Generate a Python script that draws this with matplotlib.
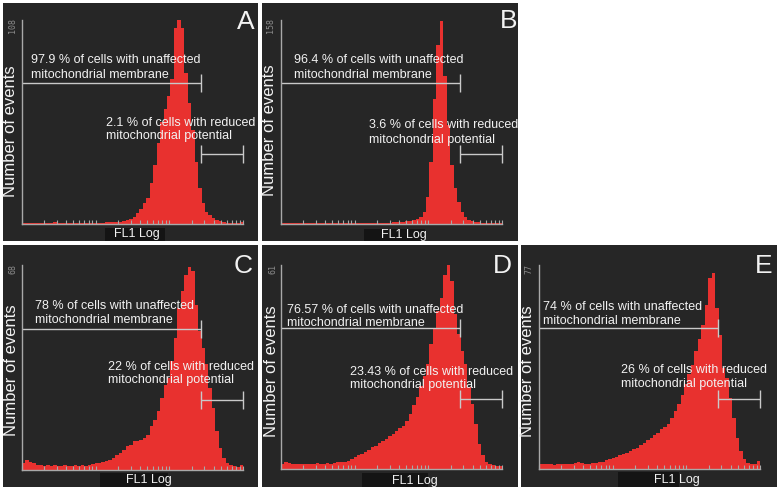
import numpy as np
import matplotlib
matplotlib.use('Agg')
import matplotlib.pyplot as plt
from matplotlib.patches import Rectangle
from matplotlib.ticker import LogLocator, NullFormatter

plt.rcParams['font.family'] = ['Liberation Sans', 'DejaVu Sans']

# ---------------- data ----------------
panel_labels = ['A', 'B', 'C', 'D', 'E']
ymax_labels = [108, 158, 68, 61, 77]
pct_unaffected = ['97.9', '96.4', '78', '76.57', '74']
pct_reduced = ['2.1', '3.6', '22', '23.43', '26']
x_label = 'FL1 Log'
y_label = 'Number of events'
gate_channel = 265          # boundary between the two gates (FL1, log scale)
x_range = (1, 1000)         # three decades

counts_A = [0.5, 0.3, 0.3, 0.4, 0.3, 0.3, 0.4, 0.3, 0.5, 0.8, 0.6, 0.5, 0.4, 0.3,
            0.4, 0.3, 0.3, 0.4, 0.5, 0.4, 0.5, 0.6, 0.5, 0.7, 0.8, 0.9, 1.0, 1.2,
            1.0, 1.5, 2.0, 2.5, 3.5,
            5.6, 8, 11, 13.6, 21.5, 31, 43, 54, 61, 68, 77, 104, 108, 104, 80, 64,
            50, 33, 19, 11, 6.5, 4.7,
            3, 2, 1.5, 1, 0.6, 0.5, 0.4, 0.5, 0.8]
counts_B = [0.8, 0.5, 0.5, 0.6, 0.5, 0.5, 0.6, 0.5, 0.8, 0.6, 0.5, 0.6, 0.5, 0.5,
            0.6, 0.5, 0.5, 0.6, 0.5, 0.5, 0.6, 0.5, 0.6, 0.7, 0.6, 0.8, 0.7, 0.8,
            0.9, 1.0,
            1.0, 1.0, 1.2, 1.3, 1.5, 1.8, 2.2, 2.6,
            3, 4, 5.7, 9.5, 21, 48, 97, 139, 157, 115, 77, 46, 28, 17, 9.5, 5.7, 3,
            2, 1.5, 1.2, 1, 0.8, 0.7, 0.6, 0.6, 0.8]
counts_C = [2.3, 3.4, 2.7, 2.3, 1.8, 1.5, 1.4, 1.6, 1.3, 1.5, 1.2, 1.4, 1.6, 1.3,
            1.4, 1.5, 1.2, 1.6, 1.4, 1.7,
            2.0, 2.2, 2.3, 2.7, 3.1, 3.4, 4.0, 4.9, 5.6, 6.7, 7.9, 8.4, 9.7, 9.5,
            10, 10.6, 11.7, 14.5, 16.7, 19.5,
            23.9, 28.3, 30.5, 36, 43.8, 53.7, 59.3, 64.8, 67.5, 65.9, 54.8, 46,
            40.5, 35, 27.2, 20.6, 12.8, 7.3, 4, 2.3,
            1.8, 1.2, 1.0, 1.5]
counts_D = [1.6, 2.0, 1.8, 1.5, 1.6, 1.4, 1.5, 1.6, 1.4, 1.5, 1.7, 1.5, 1.6, 1.8,
            1.6, 1.9, 2.0, 2.1, 2.2,
            2.4, 3.1, 3.6, 4.1, 4.6, 5.1, 5.8, 6.5, 7, 7.7, 8.3, 9, 10, 10.5, 11.5,
            12.3, 13, 14.5, 16.5, 19, 21.4,
            24.9, 27.9, 31.3, 37.3, 42.3, 47.2, 51.2, 58.1, 61, 56.1, 46.2, 40.3,
            35.3, 31.3, 24.4, 19.4, 13.5, 7.5, 4.1, 2.1,
            1.6, 1.2, 1.0, 0.8]
counts_E = [1.8, 1.9, 1.7, 1.8, 1.6, 1.8, 2.0, 1.7, 1.8, 1.9, 2.2, 2.8, 2.2, 1.9,
            2.0, 2.1, 2.3, 2.5,
            2.8, 3.3, 3.6, 4.3, 4.6, 5.3, 5.5, 6.2, 6.8, 7.4, 8, 8.9, 9.9, 10.8,
            11.8, 12.8, 13.7, 15, 15.8, 16.8,
            19.3, 21.9, 24.4, 28.1, 31.9, 35.7, 39.4, 44.5, 48.9, 54.5, 62, 72.1,
            74, 60.8, 50.7, 38.2, 34.4, 26.9, 19.3, 11.8,
            6.8, 3.6, 2.4, 2.0, 1.8, 3.0]
all_counts = [counts_A, counts_B, counts_C, counts_D, counts_E]

# ---------------- layout (pixel coordinates, origin top-left) ----------------
W, H = 780, 490
layout = [
    dict(panel=(3, 3, 258, 241), axes=(22, 20, 243, 224), t1=(31, 63, 78), t2=(106, 126, 139),
         letter=(246, 22), ymx=(12, 18), nev=(11, 131), fl=(105, 228, 165, 241), flt=(137, 234)),
    dict(panel=(262, 3, 518, 241), axes=(281, 20, 502, 224), t1=(294, 63, 78), t2=(369, 128, 143),
         letter=(509, 21), ymx=(271, 18), nev=(270, 130), fl=(364, 229, 425, 241), flt=(404, 235)),
    dict(panel=(3, 245, 258, 487), axes=(22, 265, 243, 470), t1=(35, 309, 323), t2=(108, 370, 383),
         letter=(243, 266), ymx=(13, 264), nev=(12, 370), fl=(100, 473, 168, 487), flt=(149, 480)),
    dict(panel=(262, 245, 518, 487), axes=(281, 265, 502, 469), t1=(287, 313, 326), t2=(350, 375, 388),
         letter=(502, 266), ymx=(273, 264), nev=(272, 371), fl=(362, 473, 428, 487), flt=(415, 481)),
    dict(panel=(521, 245, 777, 487), axes=(539, 265, 760, 469), t1=(543, 310, 324), t2=(621, 373, 387),
         letter=(764, 266), ymx=(529, 264), nev=(528, 371), fl=(618, 472, 679, 487), flt=(677, 480)),
]

BG = '#262626'
RED = '#e8312f'
TXT = '#f2f2f2'
GATE = '#c9c9c9'
AXC = '#a9a9a9'
G1, G2, GT = 0.69, 0.342, 0.044


def fx(x):
    return x / W


def fy(y):
    return 1 - y / H


def rect(l, t, r, b):
    return [fx(l), fy(b), (r - l) / W, (b - t) / H]


fig = plt.figure(figsize=(W / 100, H / 100), dpi=100, facecolor='white')

for i, L in enumerate(layout):
    l, t, r, b = L['panel']
    bg = fig.add_axes(rect(l, t, r, b), facecolor=BG)
    bg.set_xlim(l, r)
    bg.set_ylim(b, t)
    bg.set_xticks([])
    bg.set_yticks([])
    for s in bg.spines.values():
        s.set_visible(False)
    fl, ft, fr, fb = L['fl']
    bg.add_patch(Rectangle((fl, ft), fr - fl, fb - ft, color='#141414', lw=0))

    ax = fig.add_axes(rect(*L['axes']), facecolor='none')
    counts = np.asarray(all_counts[i], dtype=float)
    n = len(counts)
    edges = x_range[0] * (x_range[1] / x_range[0]) ** (np.arange(n + 1) / n)
    ax.stairs(counts, edges, fill=True, color=RED, lw=0)
    ax.set_xscale('log')
    ax.set_xlim(*x_range)
    ax.set_ylim(0, ymax_labels[i])
    for s in ('top', 'right'):
        ax.spines[s].set_visible(False)
    for s in ('left', 'bottom'):
        ax.spines[s].set_color(AXC)
        ax.spines[s].set_linewidth(1.0)
    ax.set_yticks([])
    ax.xaxis.set_major_locator(LogLocator(base=10, numticks=10))
    ax.xaxis.set_minor_locator(LogLocator(base=10, subs=np.arange(2, 10), numticks=20))
    ax.xaxis.set_major_formatter(NullFormatter())
    ax.xaxis.set_minor_formatter(NullFormatter())
    ax.tick_params(axis='x', which='both', direction='in', length=3, width=0.8, color=AXC)

    tr = ax.get_xaxis_transform()
    kw = dict(color=GATE, lw=1.0, transform=tr, clip_on=False, solid_capstyle='butt')
    ax.plot([x_range[0], gate_channel], [G1, G1], **kw)
    ax.plot([gate_channel, gate_channel], [G1 - GT, G1 + GT], **kw)
    ax.plot([gate_channel, x_range[1]], [G2, G2], **kw)
    ax.plot([gate_channel, gate_channel], [G2 - GT, G2 + GT], **kw)
    ax.plot([x_range[1], x_range[1]], [G2 - GT, G2 + GT], **kw)

    x1, b1, b2 = L['t1']
    fig.text(fx(x1), fy(b1), f'{pct_unaffected[i]} % of cells with unaffected',
             color=TXT, fontsize=9, va='baseline', ha='left')
    fig.text(fx(x1), fy(b2), 'mitochondrial membrane',
             color=TXT, fontsize=9, va='baseline', ha='left')
    x2, c1, c2 = L['t2']
    fig.text(fx(x2), fy(c1), f'{pct_reduced[i]} % of cells with reduced',
             color=TXT, fontsize=9, va='baseline', ha='left')
    fig.text(fx(x2), fy(c2), 'mitochondrial potential',
             color=TXT, fontsize=9, va='baseline', ha='left')

    lx, ly = L['letter']
    fig.text(fx(lx), fy(ly), panel_labels[i], color=TXT, fontsize=19,
             ha='center', va='center')
    mx, my = L['ymx']
    fig.text(fx(mx), fy(my), str(ymax_labels[i]), color='#8c8c8c', fontsize=6,
             family='DejaVu Sans Mono', rotation=90, ha='center', va='top')
    nx, ny = L['nev']
    fig.text(fx(nx), fy(ny), y_label, color=TXT, fontsize=12, rotation=90,
             ha='center', va='center')
    tx, ty = L['flt']
    fig.text(fx(tx), fy(ty), x_label, color=TXT, fontsize=9, ha='center', va='center')

fig.savefig('out.png', dpi=100, facecolor='white')
